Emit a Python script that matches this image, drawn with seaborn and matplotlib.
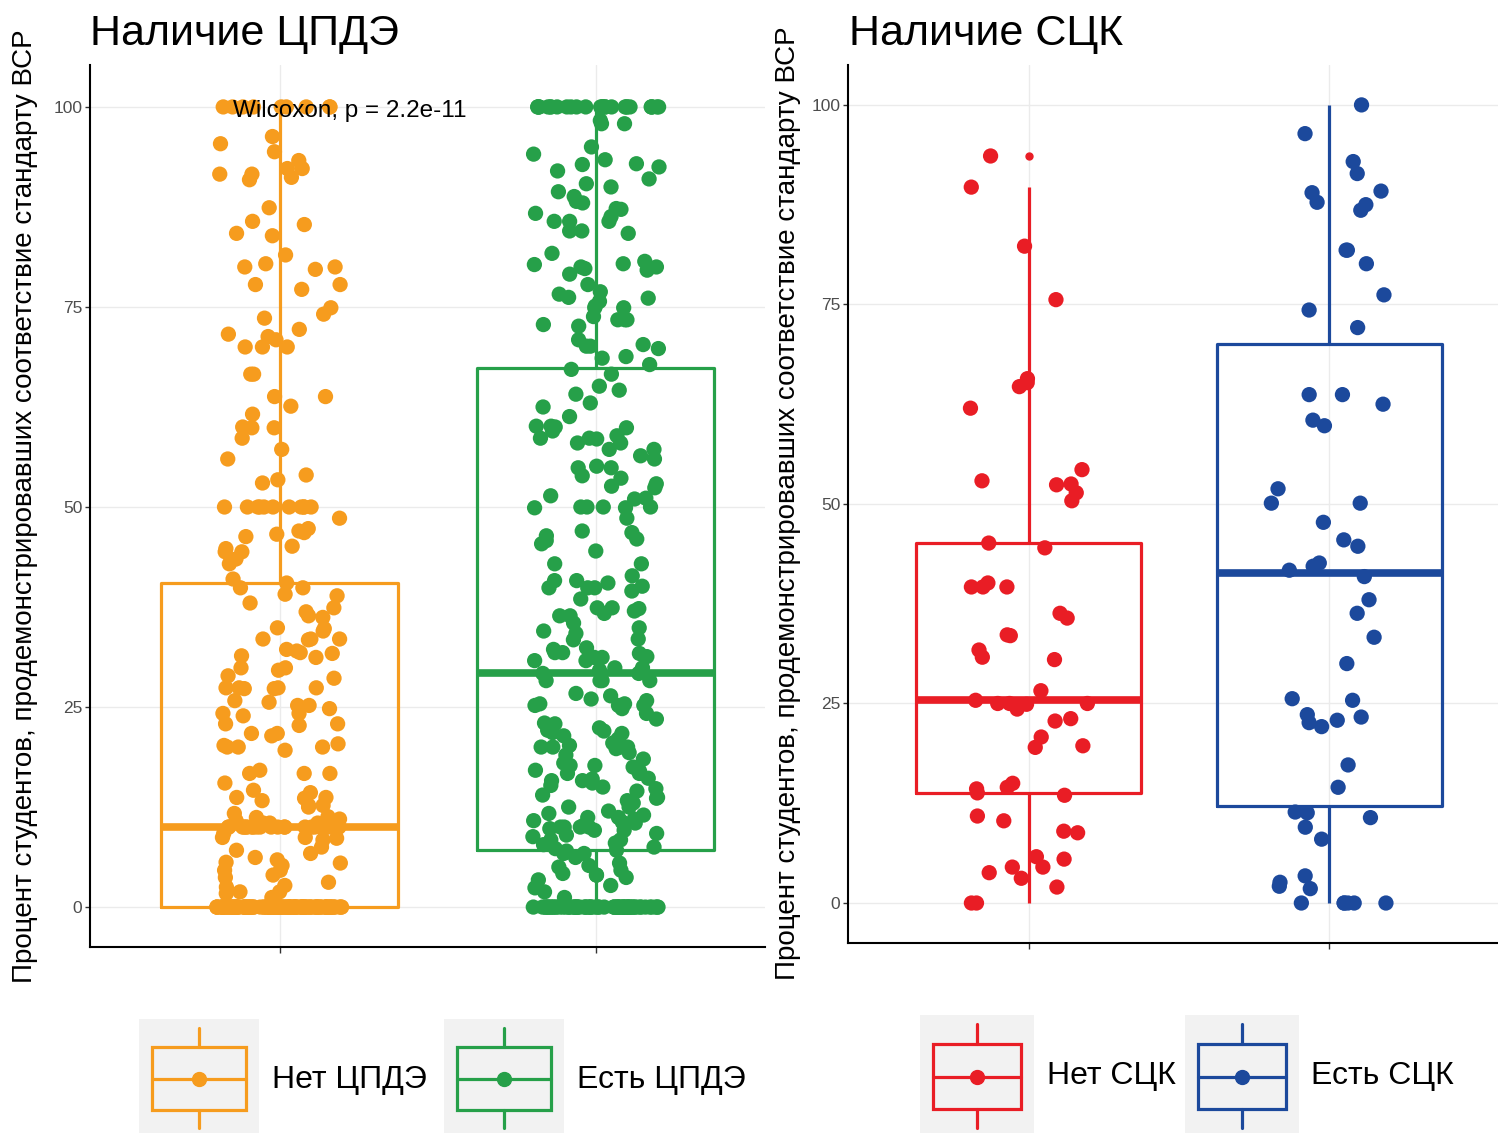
import matplotlib
matplotlib.use('Agg')
import matplotlib.pyplot as plt
from matplotlib.patches import Rectangle
import numpy as np
import pandas as pd
import seaborn as sns

# ---- data ----
groups_cpde = ['Нет ЦПДЭ', 'Есть ЦПДЭ']
groups_sck = ['Нет СЦК', 'Есть СЦК']

cpde_no = (
    [100.0] * 9
    + [96.3, 95.4, 94.4, 93.3, 91.6, 92.3, 91.2, 91.6, 92.3, 90.9, 87.4, 85.7, 85.3, 83.9,
       84.2, 81.5, 79.7, 77.8, 80.0, 80.4, 80.0, 77.8, 77.2, 74.9, 74.1, 73.6, 71.6, 72.2,
       70.0, 70.0, 70.0, 71.3, 70.9, 66.6, 66.6,
       63.8, 63.8, 62.6, 61.6, 59.9, 59.9, 60.0, 58.6, 57.2, 56.0, 53.4, 53.0, 54.0]
    + [50.0] * 11
    + [48.6, 46.3, 46.8, 47.0, 47.3, 46.6, 45.1, 44.4, 44.8, 44.4, 43.5, 42.9, 41.0, 40.5,
       39.9, 38.9, 39.9, 39.1, 36.9, 38.0, 37.4, 36.2, 36.4, 34.9, 34.5, 33.5, 31.8, 31.7,
       32.0, 33.5, 32.2, 31.4, 29.9, 33.4, 31.2, 33.5, 34.8, 29.9, 28.9, 29.6, 28.6,
       27.4, 27.4, 27.3, 27.3, 27.4, 27.4, 24.8, 25.2, 25.8, 25.6, 24.2, 23.9, 25.2, 24.2,
       21.7, 21.7, 22.7, 22.9, 21.4, 22.9, 20.2, 20.0, 20.4, 19.6, 20.0, 20.0,
       16.7, 16.7, 16.7, 17.1, 15.5, 13.7, 14.6, 14.3, 13.7, 13.6, 12.7, 12.7, 13.3, 12.5,
       11.7, 11.2, 10.5, 10.0, 10.8, 11.3, 10.5, 11.0, 10.5, 10.0]
    + [10.0] * 24
    + [8.6, 8.7, 8.4, 8.7, 9.2, 6.7, 6.2, 5.2, 7.1, 5.5, 4.6, 7.5, 5.6, 5.9, 4.6, 3.1,
       4.0, 3.7, 2.5, 2.7, 1.7, 1.9, 1.2, 1.9]
    + [0.0] * 118
)

cpde_yes = (
    [100.0] * 28
    + [97.9, 97.9, 98.3, 95.0, 94.1, 92.8, 92.5, 92.9, 93.4, 92.0, 91.0, 90.4, 90.0, 89.4,
       88.8, 88.2, 88.0, 86.7, 87.3, 85.7, 85.7, 86.3, 87.2, 85.7, 84.5, 84.2, 84.5, 81.7,
       79.6, 80.3, 80.7, 79.1, 80.0, 80.0, 77.8, 80.4, 79.8, 76.1, 74.9, 73.8, 72.8, 72.6,
       74.9, 76.2, 76.9, 76.6, 75.1, 75.7, 73.4, 73.4, 73.4, 70.1, 70.1, 70.3, 70.9, 68.8,
       69.8, 67.8, 68.6, 67.2, 66.6]
    + [64.6, 65.1, 64.1, 63.0, 62.5, 61.3, 60.1, 58.9, 57.2, 59.5, 60.1, 59.9, 58.0, 58.5,
       58.6, 60.0, 58.0, 57.2, 56.4, 56.0, 54.9, 54.9, 58.6, 55.1, 53.9, 52.9, 52.6, 51.4,
       53.6, 52.4, 51.1, 50.0, 49.9, 51.0, 50.0, 49.9, 50.0, 50.0, 48.6, 46.4, 46.8, 44.5,
       45.4, 46.0, 47.0, 45.8, 42.9, 42.9, 40.8, 39.5, 37.0, 34.5, 39.9, 41.4, 39.9, 40.1,
       38.5, 37.4, 36.4, 34.9, 37.3, 36.7, 35.5, 40.8, 40.5, 39.9, 37.4, 36.4, 34.2, 33.4,
       33.5, 31.8, 31.8, 32.2, 30.8, 32.4, 31.7, 31.3, 31.2, 30.8, 29.9, 29.6, 31.2, 29.9,
       29.2, 29.2]
    + [28.3, 28.3, 28.3, 28.3, 26.7, 25.4, 25.8, 26.4, 25.4, 25.2, 25.2, 25.2, 24.2, 21.8,
       22.4, 21.7, 22.9, 21.4, 20.0, 20.0, 22.1, 20.2, 20.0, 20.0, 19.3, 19.8, 17.5, 15.8,
       15.0, 17.1, 17.7, 16.7, 15.5, 17.7, 16.7, 15.8, 16.1, 14.8, 13.3, 13.7, 12.5, 12.5,
       11.2, 9.6, 10.6, 11.2, 9.6, 8.4, 7.5, 10.0, 13.6, 11.7, 9.2, 10.0, 10.5, 10.8, 10.0,
       10.0, 8.4, 7.1,
       26.0, 24.8, 23.5, 23.0, 22.0, 21.0, 20.5, 19.0, 18.5, 18.0, 17.0, 16.0, 15.2,
       14.5, 14.0, 13.0, 12.0, 11.5, 11.0, 10.2, 9.8, 9.0, 8.8, 8.0, 7.8, 7.3]
    + [6.7, 6.7, 5.5, 5.2, 4.0, 1.9, 6.2, 5.0, 3.7, 2.4, 2.7, 4.6, 4.0, 3.4, 1.2, 4.2,
       7.0, 6.9]
    + [0.0] * 69
)

sck_no = [93.6, 89.7, 82.3, 75.6, 64.7, 65.2, 62.0, 65.7, 54.3, 52.5, 52.4, 52.9, 51.4,
          50.4, 45.1, 44.5, 39.6, 39.6, 39.6, 40.1, 36.3, 35.7, 33.5, 33.6, 30.8, 31.7,
          30.5, 26.6, 25.4, 24.9, 24.3, 23.1, 22.8, 20.8, 19.5, 19.7, 25.0, 25.0, 25.0,
          13.5, 14.3, 15.0, 13.8, 14.5, 10.9, 10.3, 9.0, 8.8, 5.5, 5.8, 4.5, 4.5, 3.8,
          3.1, 2.0, 0.0, 0.0]

sck_yes = [100.0, 96.4, 92.9, 91.4, 89.2, 87.8, 89.0, 87.5, 86.8, 81.8, 80.1, 81.8, 76.2,
           74.3, 72.1, 62.5, 63.7, 63.7, 60.5, 59.8, 51.9, 50.1, 50.1, 47.7, 45.5, 44.7,
           42.6, 42.2, 41.7, 40.9, 38.0, 36.3, 33.3, 30.0, 25.4, 25.6, 23.3, 22.6, 22.1,
           23.6, 22.9, 17.3, 14.5, 11.3, 11.4, 10.7, 9.5, 8.0, 2.6, 3.4, 2.1, 1.8,
           0.0, 0.0, 0.0, 0.0, 0.0, 0.0]

colors_cpde = ['#F69C1E', '#26A049']
colors_sck = ['#E91D25', '#1C499C']
ylabel = 'Процент студентов, продемонстрировавших соответствие стандарту ВСР'
pvalue_text = 'Wilcoxon, p = 2.2e-11'

df_cpde = pd.DataFrame({'group': [groups_cpde[0]] * len(cpde_no) + [groups_cpde[1]] * len(cpde_yes),
                        'value': cpde_no + cpde_yes})
df_sck = pd.DataFrame({'group': [groups_sck[0]] * len(sck_no) + [groups_sck[1]] * len(sck_yes),
                       'value': sck_no + sck_yes})

sns.set_style('white')
plt.rcParams['font.family'] = ['Liberation Sans', 'DejaVu Sans']
plt.rcParams['text.color'] = 'black'

W, H = 1498, 1135
fig = plt.figure(figsize=(W / 100, H / 100), dpi=100)


def fx(px):
    return px / W


def fy(py):
    return 1 - py / H


def style_axes(ax, ylim, xlim):
    ax.set_ylim(*ylim)
    ax.set_xlim(*xlim)
    ax.set_yticks([0, 25, 50, 75, 100])
    ax.set_xticks([0, 1])
    ax.set_xticklabels(['', ''])
    ax.set_xlabel('')
    ax.set_ylabel('')
    ax.grid(True, color='#EBEBEB', linewidth=1.0)
    ax.set_axisbelow(True)
    for s in ['top', 'right']:
        ax.spines[s].set_visible(False)
    for s in ['left', 'bottom']:
        ax.spines[s].set_color('black')
        ax.spines[s].set_linewidth(1.5)
    ax.tick_params(axis='y', length=3.5, width=1, color='#333333', labelcolor='#4D4D4D',
                   labelsize=12.5, pad=2, left=True)
    ax.tick_params(axis='x', length=4, width=1, color='#333333', bottom=True)


def draw(ax, df, order, colors, pts_on_top, seed):
    np.random.seed(seed)
    pal = dict(zip(order, colors))
    sns.stripplot(data=df, x='group', y='value', hue='group', order=order, hue_order=order,
                  palette=pal, jitter=0.2, size=11, linewidth=0, alpha=1, legend=False,
                  ax=ax, zorder=4 if pts_on_top else 2)
    sns.boxplot(data=df, x='group', y='value', hue='group', order=order, hue_order=order,
                palette=pal, fill=False, width=0.75, linewidth=2.3, whis=1.5, showcaps=False,
                medianprops={'linewidth': 5.5},
                flierprops={'marker': 'o', 'markersize': 5, 'markerfacecolor': colors[0],
                            'markeredgecolor': colors[0]},
                legend=False, ax=ax, zorder=3)


ax1 = fig.add_axes([fx(90), fy(947), fx(765) - fx(90), fy(65) - fy(947)])
draw(ax1, df_cpde, groups_cpde, colors_cpde, False, 3)
style_axes(ax1, (-4.99, 105.24), (-0.601, 1.535))
ax1.text(-0.149, 98.75, pvalue_text, fontsize=17.5, va='baseline', ha='left', zorder=6)

ax2 = fig.add_axes([fx(848), fy(943), 1 - fx(848), fy(65) - fy(943)])
draw(ax2, df_sck, groups_sck, colors_sck, True, 11)
style_axes(ax2, (-5.01, 105.0), (-0.603, 1.563))

fig.text(fx(90), fy(45), 'Наличие ЦПДЭ', fontsize=31, va='baseline', ha='left')
fig.text(fx(849), fy(45), 'Наличие СЦК', fontsize=31, va='baseline', ha='left')
fig.text(fx(25), fy(506), ylabel, fontsize=20, rotation=90, va='center', ha='center')
fig.text(fx(788), fy(503), ylabel, fontsize=20, rotation=90, va='center', ha='center')


def draw_key(x0, y0, w, h, color):
    kax = fig.add_axes([fx(x0), fy(y0 + h), w / W, h / H])
    kax.set_xlim(0, 1)
    kax.set_ylim(1, 0)
    kax.set_facecolor('#F2F2F2')
    kax.set_xticks([])
    kax.set_yticks([])
    for s in kax.spines.values():
        s.set_visible(False)
    kax.add_patch(Rectangle((0.11, 0.245), 0.78, 0.555, fill=False, edgecolor=color, linewidth=2.3))
    kax.plot([0.5, 0.5], [0.08, 0.245], color=color, linewidth=2.3)
    kax.plot([0.5, 0.5], [0.80, 0.955], color=color, linewidth=2.3)
    kax.plot([0.11, 0.89], [0.525, 0.525], color=color, linewidth=2.3)
    kax.plot([0.5], [0.525], marker='o', markersize=10, color=color)


draw_key(139, 1019, 120, 114, colors_cpde[0])
draw_key(444, 1019, 120, 114, colors_cpde[1])
fig.text(fx(272), fy(1080), groups_cpde[0], fontsize=23, va='center', ha='left')
fig.text(fx(577), fy(1080), groups_cpde[1], fontsize=23, va='center', ha='left')

draw_key(920, 1015, 114, 118, colors_sck[0])
draw_key(1185, 1015, 114, 118, colors_sck[1])
fig.text(fx(1047), fy(1076), groups_sck[0], fontsize=23, va='center', ha='left')
fig.text(fx(1311), fy(1076), groups_sck[1], fontsize=23, va='center', ha='left')

fig.savefig('out.png', dpi=100)
